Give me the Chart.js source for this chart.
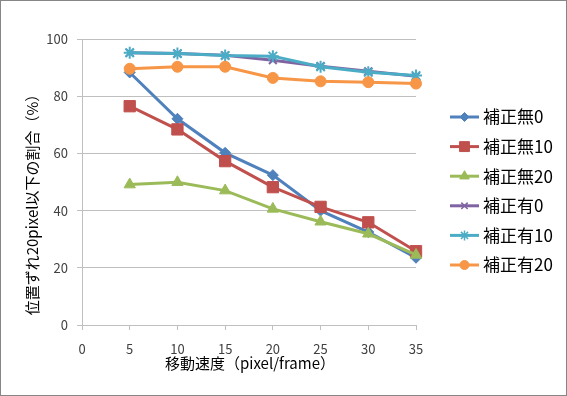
<!DOCTYPE html>
<html>
<head>
<meta charset="utf-8">
<script src="https://cdn.jsdelivr.net/npm/chart.js@4/dist/chart.umd.min.js"></script>
<style>
  html, body { margin: 0; padding: 0; background: #fff; }
  canvas { display: block; }
</style>
</head>
<body>
<canvas id="speedChart" width="567" height="396"></canvas>
<script>
const speeds = [5, 10, 15, 20, 25, 30, 35];

const seriesNames = ["補正無0", "補正無10", "補正無20", "補正有0", "補正有10", "補正有20"];

const noCorr0 = [88.3, 72.1, 60.2, 52.4, 40.0, 32.5, 23.5];
const noCorr10 = [76.5, 68.4, 57.3, 48.2, 41.3, 35.9, 25.8];
const noCorr20 = [49.1, 49.9, 47.0, 40.6, 36.1, 31.9, 24.5];
const corr0 = [95.2, 94.9, 94.3, 92.6, 90.5, 88.7, 87.0];
const corr10 = [95.2, 94.9, 94.2, 94.0, 90.3, 88.4, 87.2];
const corr20 = [89.6, 90.3, 90.3, 86.4, 85.2, 84.9, 84.4];

const xTicks = [0, 5, 10, 15, 20, 25, 30, 35];
const yTicks = [0, 20, 40, 60, 80, 100];

const xTitle = "移動速度（pixel/frame）";
const yTitle = "位置ずれ20pixel以下の割合（%）";

const seriesValues = [noCorr0, noCorr10, noCorr20, corr0, corr10, corr20];
const seriesColors = ["#4F81BD", "#C0504D", "#9BBB59", "#8064A2", "#4BACC6", "#F79646"];
const seriesMarkers = ["rectRot", "rect", "triangle", "crossRot", "star", "circle"];
const seriesRadius = [5.5, 8, 6.5, 5.5, 6, 5.5];

const FONT = "'Noto Sans CJK JP', 'Noto Sans', sans-serif";

// outer frame + white background like the Excel chart area
const frame = {
  id: "frame",
  beforeDraw(chart) {
    const ctx = chart.ctx;
    ctx.save();
    ctx.fillStyle = "#fff";
    ctx.fillRect(0, 0, chart.width, chart.height);
    ctx.strokeStyle = "#868686";
    ctx.lineWidth = 1;
    ctx.strokeRect(0.5, 0.5, chart.width - 1, chart.height - 1);
    ctx.restore();
  },
};

// axis titles placed by hand (Excel does not center the y title on the plot)
const axisTitles = {
  id: "axisTitles",
  afterDraw(chart) {
    const ctx = chart.ctx;
    const area = chart.chartArea;
    ctx.save();
    ctx.fillStyle = "#000";
    ctx.font = "15px " + FONT;
    ctx.textAlign = "center";
    ctx.textBaseline = "middle";
    ctx.fillText(xTitle, (area.left + area.right) / 2 + 1, area.bottom + 38);
    ctx.translate(32, 201);
    ctx.rotate(-Math.PI / 2);
    ctx.fillText(yTitle, 0, 0);
    ctx.restore();
  },
};

// legend drawn by hand so each entry shows line + marker like Excel
const excelLegend = {
  id: "excelLegend",
  afterDraw(chart) {
    const ctx = chart.ctx;
    const x0 = chart.chartArea.right + 34;
    const y0 = 117;
    const step = 29.6;
    ctx.save();
    chart.data.datasets.forEach((ds, i) => {
      const y = y0 + i * step;
      ctx.strokeStyle = ds.borderColor;
      ctx.lineWidth = 3;
      ctx.beginPath();
      ctx.moveTo(x0, y);
      ctx.lineTo(x0 + 29, y);
      ctx.stroke();
      ctx.fillStyle = ds.backgroundColor;
      ctx.lineWidth = ds.pointStyle === "crossRot" || ds.pointStyle === "star" ? 1.5 : 1;
      Chart.helpers.drawPoint(ctx, {
        pointStyle: ds.pointStyle,
        radius: ds.pointRadius - 1,
        rotation: 0,
        borderWidth: ctx.lineWidth,
      }, x0 + 14.5, y);
      ctx.fillStyle = "#000";
      ctx.font = "17px " + FONT;
      ctx.textBaseline = "middle";
      ctx.fillText(ds.label, x0 + 33, y);
    });
    ctx.restore();
  },
};

new Chart(document.getElementById("speedChart"), {
  type: "line",
  data: {
    datasets: seriesNames.map((name, i) => ({
      label: name,
      data: speeds.map((s, j) => ({ x: s, y: seriesValues[i][j] })),
      borderColor: seriesColors[i],
      backgroundColor: seriesColors[i],
      borderWidth: 3,
      pointStyle: seriesMarkers[i],
      pointRadius: seriesRadius[i],
      pointBorderWidth: seriesMarkers[i] === "crossRot" || seriesMarkers[i] === "star" ? 2 : 1,
      pointBorderColor: seriesColors[i],
      tension: 0,
      clip: false,
      order: seriesNames.length - i,
    })),
  },
  options: {
    responsive: false,
    animation: false,
    devicePixelRatio: 1,
    layout: { padding: { top: 39, right: 151, bottom: 0, left: 0 } },
    plugins: {
      legend: { display: false },
      tooltip: { enabled: false },
    },
    scales: {
      x: {
        type: "linear",
        min: 0,
        max: 35,
        afterBuildTicks: (axis) => { axis.ticks = xTicks.map((v) => ({ value: v })); },
        afterFit: (axis) => { axis.height = 71; },
        ticks: { color: "#404040", font: { family: FONT, size: 13 }, padding: 11, maxRotation: 0 },
        grid: { drawOnChartArea: false, tickLength: 5, color: "#bfbfbf", lineWidth: 1 },
        border: { color: "#bfbfbf", width: 1 },
      },
      y: {
        min: 0,
        max: 100,
        afterBuildTicks: (axis) => { axis.ticks = yTicks.map((v) => ({ value: v })); },
        afterFit: (axis) => { axis.width = 82; },
        ticks: { color: "#404040", font: { family: FONT, size: 13 }, padding: 9 },
        grid: { color: "#bfbfbf", tickLength: 5, lineWidth: 1 },
        border: { color: "#bfbfbf", width: 1 },
      },
    },
  },
  plugins: [frame, axisTitles, excelLegend],
});
</script>
</body>
</html>
